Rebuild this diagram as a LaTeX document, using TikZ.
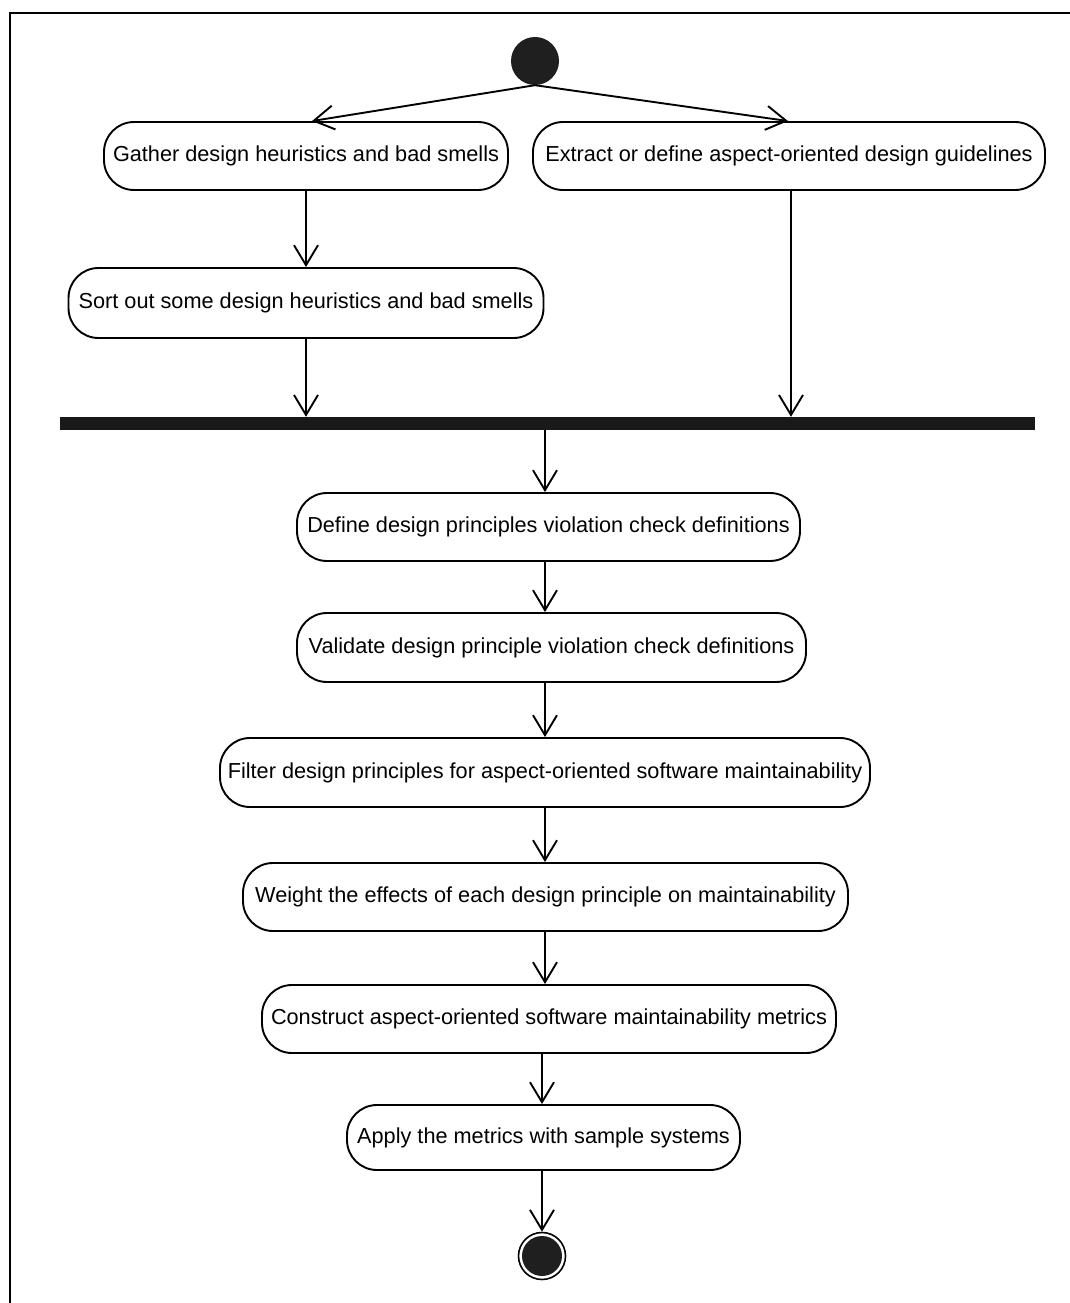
\documentclass[tikz,border=0pt]{standalone}
\usepackage{fontspec}
\setmainfont{Liberation Sans}
\usetikzlibrary{arrows.meta}

\begin{document}
\begin{tikzpicture}[x=1pt,y=-1pt,
  act/.style={draw, line width=1.9pt, rounded corners=30pt, minimum height=68pt,
    inner sep=0pt, font=\fontsize{21.7}{22}\selectfont},
  flow/.style={line width=1.9pt, -{Straight Barb[length=20pt,width=24pt,line width=1.9pt]}},
  dot/.style={circle, fill=black!88, inner sep=0pt}
]
\useasboundingbox (0,0) rectangle (1070,1303);

% frame
\draw[line width=2.5pt] (10,1303) -- (10,13) -- (1070,13);

% initial node
\node[dot, minimum size=48pt] (start) at (535,61) {};

% upper branch activities
\node[act, minimum width=404pt] (gather)  at (306,156) {Gather design heuristics and bad smells};
\node[act, minimum width=512pt] (extract) at (789,156) {Extract or define aspect-oriented design guidelines};
\node[act, minimum width=475pt, minimum height=70pt] (sort) at (306,303) {Sort out some design heuristics and bad smells};

% synchronisation bar
\node[fill=black!90, minimum width=975pt, minimum height=13pt, inner sep=0pt] (bar) at (547.5,423.5) {};

% column positions of the vertical flows
\coordinate (col) at (545,0);
\coordinate (ecol) at (791,0);

% main sequence
\node[act, minimum width=503pt] (define)    at (548.5,527) {Define design principles violation check definitions};
\node[act, minimum width=509pt, minimum height=69pt] (validate) at (551.5,647.5) {Validate design principle violation check definitions};
\node[act, minimum width=650pt, minimum height=69pt] (filter)   at (545,772.5) {Filter design principles for aspect-oriented software maintainability};
\node[act, minimum width=605pt] (weight)    at (545.5,897) {Weight the effects of each design principle on maintainability};
\node[act, minimum width=574pt] (construct) at (549,1019) {Construct aspect-oriented software maintainability metrics};
\node[act, minimum width=393pt, minimum height=65pt] (apply) at (543.5,1137.5) {Apply the metrics with sample systems};

% final node
\node[circle, draw, line width=1.6pt, minimum size=47pt, inner sep=0pt] (end) at (542,1256) {};
\node[dot, minimum size=40pt] at (end) {};

% connectors
\draw[flow] (start.south) -- ([xshift=6pt]gather.north);
\draw[flow] (start.south) -- ([xshift=-1pt]extract.north);
\draw[flow] (gather.south) -- (sort.north);
\draw[flow] (sort.south) -- (bar.north -| sort.south);
\draw[flow] (extract.south -| ecol) -- (bar.north -| ecol);
\draw[flow] (bar.south -| col) -- (define.north -| col);
\draw[flow] (define.south -| col) -- (validate.north -| col);
\draw[flow] (validate.south -| col) -- (filter.north -| col);
\draw[flow] (filter.south -| col) -- (weight.north -| col);
\draw[flow] (weight.south -| col) -- (construct.north -| col);
\draw[flow] (construct.south -| end) -- (apply.north -| end);
\draw[flow] (apply.south -| end) -- (end.north);
\end{tikzpicture}
\end{document}
